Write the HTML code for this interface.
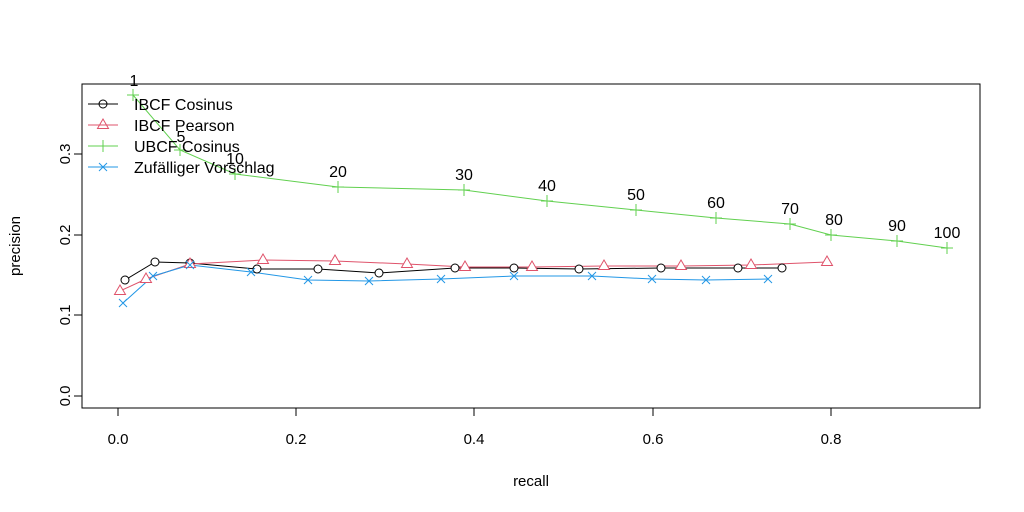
<!DOCTYPE html><html><head><style>body{margin:0;background:#fff}svg{display:block}text{font-family:"Liberation Sans",sans-serif}</style></head><body>
<svg width="1024" height="512" viewBox="0 0 1024 512">
<rect x="82" y="84" width="898" height="324" fill="none" stroke="#000" stroke-width="1"/>
<g stroke="#000"><line x1="118" y1="408" x2="831" y2="408"/>
<line x1="118" y1="408" x2="118" y2="416"/><line x1="296" y1="408" x2="296" y2="416"/><line x1="474" y1="408" x2="474" y2="416"/><line x1="653" y1="408" x2="653" y2="416"/><line x1="831" y1="408" x2="831" y2="416"/>
<line x1="82" y1="154" x2="82" y2="396"/>
<line x1="74" y1="396" x2="82" y2="396"/><line x1="74" y1="315" x2="82" y2="315"/><line x1="74" y1="235" x2="82" y2="235"/><line x1="74" y1="154" x2="82" y2="154"/></g>
<g font-size="15" text-anchor="middle"><text x="118" y="444">0.0</text><text x="296" y="444">0.2</text><text x="474" y="444">0.4</text><text x="653" y="444">0.6</text><text x="831" y="444">0.8</text>
<text x="531" y="486">recall</text>
<text transform="translate(70,396) rotate(-90)">0.0</text><text transform="translate(70,315) rotate(-90)">0.1</text><text transform="translate(70,235) rotate(-90)">0.2</text><text transform="translate(70,154) rotate(-90)">0.3</text>
<text transform="translate(20,246) rotate(-90)">precision</text></g>
<polyline fill="none" stroke="#61D04F" points="133,95 180,150 235,174 338,187 464,190 547,201 636,210 716,218 790,224 831,235 897,241 947,248"/>
<polyline fill="none" stroke="#000" points="125,280 155,262 190,263 257,269 318,269 379,273 455,268 514,268 579,269 661,268 738,268 782,268"/>
<polyline fill="none" stroke="#DF536B" points="120,291 146,279 190,264 263,260 335,261 407,264 465,267 532,267 604,266 681,266 751,265 827,262"/>
<polyline fill="none" stroke="#2297E6" points="123,303 153,276 190,265 251,272 308,280 369,281 441,279 514,276 592,276 652,279 706,280 768,279"/>
<g fill="#fff" stroke="#000">
<circle cx="125" cy="280" r="4"/><circle cx="155" cy="262" r="4"/><circle cx="190" cy="263" r="4"/><circle cx="257" cy="269" r="4"/><circle cx="318" cy="269" r="4"/><circle cx="379" cy="273" r="4"/><circle cx="455" cy="268" r="4"/><circle cx="514" cy="268" r="4"/><circle cx="579" cy="269" r="4"/><circle cx="661" cy="268" r="4"/><circle cx="738" cy="268" r="4"/><circle cx="782" cy="268" r="4"/><circle cx="103" cy="104" r="4"/></g>
<g fill="#fff" stroke="#DF536B">
<path d="M120,285 l5.5,9.5 h-11z M146,273 l5.5,9.5 h-11z M190,258 l5.5,9.5 h-11z M263,254 l5.5,9.5 h-11z M335,255 l5.5,9.5 h-11z M407,258 l5.5,9.5 h-11z M465,261 l5.5,9.5 h-11z M532,261 l5.5,9.5 h-11z M604,260 l5.5,9.5 h-11z M681,260 l5.5,9.5 h-11z M751,259 l5.5,9.5 h-11z M827,256 l5.5,9.5 h-11z M103,119 l5.5,9.5 h-11z"/></g>
<g fill="none" stroke="#61D04F"><path d="M127,95h12m-6,-6v12 M174,150h12m-6,-6v12 M229,174h12m-6,-6v12 M332,187h12m-6,-6v12 M458,190h12m-6,-6v12 M541,201h12m-6,-6v12 M630,210h12m-6,-6v12 M710,218h12m-6,-6v12 M784,224h12m-6,-6v12 M825,235h12m-6,-6v12 M891,241h12m-6,-6v12 M941,248h12m-6,-6v12 M97,146h12m-6,-6v12"/></g>
<g fill="none" stroke="#2297E6"><path d="M119,299l8,8m0,-8l-8,8 M149,272l8,8m0,-8l-8,8 M186,261l8,8m0,-8l-8,8 M247,268l8,8m0,-8l-8,8 M304,276l8,8m0,-8l-8,8 M365,277l8,8m0,-8l-8,8 M437,275l8,8m0,-8l-8,8 M510,272l8,8m0,-8l-8,8 M588,272l8,8m0,-8l-8,8 M648,275l8,8m0,-8l-8,8 M702,276l8,8m0,-8l-8,8 M764,275l8,8m0,-8l-8,8 M99,163l8,8m0,-8l-8,8"/></g>
<g stroke-width="1"><line x1="88" y1="104" x2="118" y2="104" stroke="#000"/><line x1="88" y1="125" x2="118" y2="125" stroke="#DF536B"/><line x1="88" y1="146" x2="118" y2="146" stroke="#61D04F"/><line x1="88" y1="167" x2="118" y2="167" stroke="#2297E6"/></g>
<g font-size="16"><text x="134" y="110">IBCF Cosinus</text><text x="134" y="131">IBCF Pearson</text><text x="134" y="152">UBCF Cosinus</text><text x="134" y="173">Zufälliger Vorschlag</text></g>
<g font-size="16" text-anchor="middle"><text x="134" y="86">1</text><text x="181" y="142">5</text><text x="235" y="164">10</text><text x="338" y="177">20</text><text x="464" y="180">30</text><text x="547" y="191">40</text><text x="636" y="200">50</text><text x="716" y="208">60</text><text x="790" y="214">70</text><text x="834" y="225">80</text><text x="897" y="231">90</text><text x="947" y="238">100</text></g>
</svg></body></html>
